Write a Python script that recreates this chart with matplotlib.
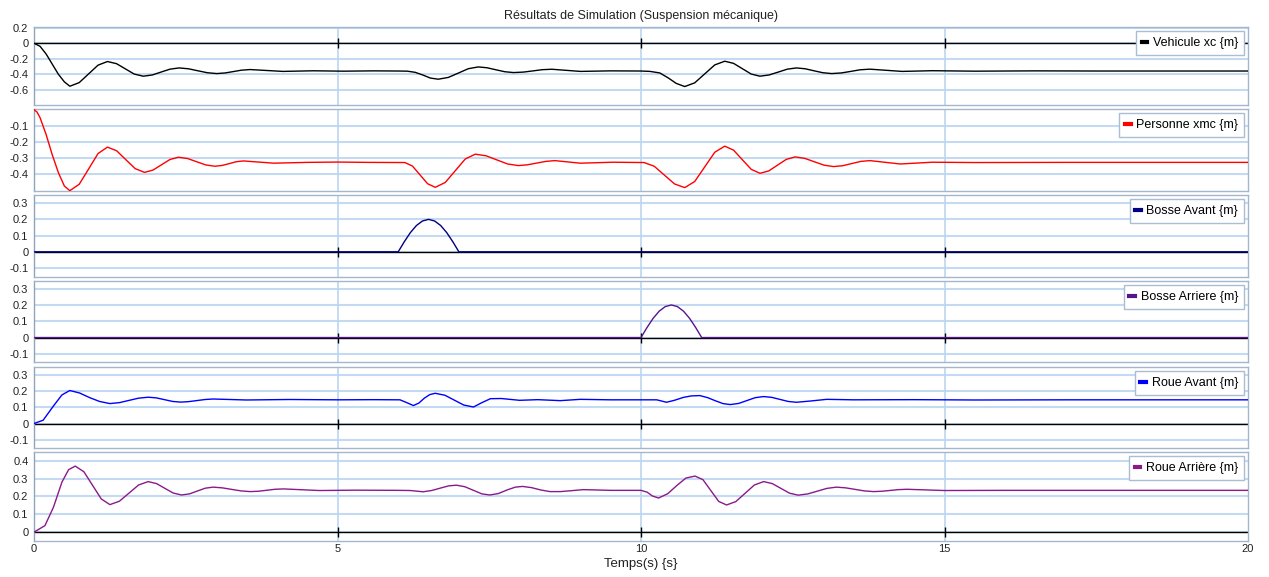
import numpy as np
import matplotlib
matplotlib.use('Agg')
import matplotlib.pyplot as plt
from matplotlib.lines import Line2D

plt.rcParams['font.family'] = ['Liberation Sans', 'DejaVu Sans']

# Données (temps en s, positions en m)
t_xc = [0, 0.1, 0.2, 0.3, 0.4, 0.5, 0.59, 0.745, 0.9, 1.055, 1.21, 1.36, 1.505, 1.65, 1.8,
        1.95, 2.095, 2.24, 2.39, 2.545, 2.7, 2.855, 3.01, 3.15, 3.285, 3.42, 3.56, 4.1, 4.6,
        5.1, 5.6, 6.0, 6.15, 6.28, 6.41, 6.53, 6.66, 6.825, 6.99, 7.155, 7.32, 7.465, 7.61,
        7.755, 7.9, 8.06, 8.215, 8.37, 8.53, 9.0, 9.5, 10.0, 10.15, 10.31, 10.45, 10.58,
        10.72, 10.885, 11.05, 11.215, 11.38, 11.525, 11.67, 11.815, 11.96, 12.11, 12.26,
        12.41, 12.56, 12.705, 12.85, 12.995, 13.14, 13.3, 13.455, 13.61, 13.77, 14.3, 14.8,
        15.5, 16.5, 17.5, 20]
xc = [0, -0.04, -0.14, -0.27, -0.40, -0.50, -0.557, -0.510, -0.397, -0.284, -0.237, -0.265,
      -0.332, -0.399, -0.427, -0.411, -0.373, -0.336, -0.320, -0.331, -0.357, -0.382, -0.393,
      -0.385, -0.367, -0.349, -0.341, -0.365, -0.357, -0.362, -0.358, -0.360, -0.362, -0.377,
      -0.413, -0.451, -0.466, -0.443, -0.387, -0.330, -0.307, -0.318, -0.344, -0.369, -0.380,
      -0.374, -0.359, -0.343, -0.337, -0.365, -0.358, -0.360, -0.365, -0.385, -0.450, -0.520,
      -0.561, -0.513, -0.397, -0.281, -0.233, -0.261, -0.330, -0.399, -0.427, -0.411, -0.374,
      -0.336, -0.320, -0.331, -0.357, -0.382, -0.393, -0.385, -0.365, -0.344, -0.336, -0.365,
      -0.356, -0.362, -0.358, -0.360, -0.360]

t_xmc = [0, 0.05, 0.1, 0.2, 0.3, 0.4, 0.5, 0.59, 0.745, 0.9, 1.055, 1.21, 1.3625, 1.515,
         1.6675, 1.82, 1.96, 2.1, 2.24, 2.38, 2.53, 2.68, 2.83, 2.98, 3.1, 3.215, 3.33, 3.45,
         3.95, 4.5, 5.0, 5.5, 6.11, 6.235, 6.36, 6.485, 6.61, 6.775, 6.94, 7.105, 7.27, 7.4475,
         7.625, 7.8025, 7.98, 8.13, 8.28, 8.43, 8.58, 9.0, 9.54, 10.05, 10.2175, 10.385,
         10.5525, 10.72, 10.885, 11.05, 11.215, 11.38, 11.525, 11.67, 11.815, 11.96, 12.105,
         12.25, 12.395, 12.54, 12.6975, 12.855, 13.0125, 13.17, 13.32, 13.47, 13.62, 13.77,
         14.27, 14.8, 15.5, 17, 20]
xmc = [0, -0.015, -0.05, -0.155, -0.28, -0.39, -0.475, -0.504, -0.464, -0.369, -0.273, -0.233,
       -0.256, -0.312, -0.367, -0.390, -0.376, -0.343, -0.310, -0.296, -0.304, -0.324, -0.344,
       -0.352, -0.347, -0.336, -0.324, -0.319, -0.333, -0.328, -0.326, -0.328, -0.329, -0.351,
       -0.406, -0.461, -0.483, -0.453, -0.380, -0.307, -0.277, -0.287, -0.3125, -0.338, -0.348,
       -0.343, -0.3325, -0.322, -0.317, -0.333, -0.327, -0.329, -0.352, -0.407, -0.462, -0.485,
       -0.447, -0.356, -0.265, -0.227, -0.252, -0.3115, -0.371, -0.396, -0.381, -0.345, -0.309,
       -0.294, -0.303, -0.324, -0.345, -0.354, -0.349, -0.3355, -0.322, -0.317, -0.338, -0.327,
       -0.329, -0.328, -0.328]

t_bav = [0, 6.0, 6.1, 6.2, 6.3, 6.4, 6.5, 6.6, 6.7, 6.8, 6.9, 7.0, 20]
bav = [0, 0, 0.062, 0.118, 0.162, 0.190, 0.200, 0.190, 0.162, 0.118, 0.062, 0, 0]

t_bar = [0, 10.0, 10.1, 10.2, 10.3, 10.4, 10.5, 10.6, 10.7, 10.8, 10.9, 11.0, 20]
bar = [0, 0, 0.062, 0.118, 0.162, 0.190, 0.200, 0.190, 0.162, 0.118, 0.062, 0, 0]

t_rav = [0, 0.15, 0.32, 0.46, 0.59, 0.75, 0.92, 1.08, 1.25, 1.41, 1.565, 1.72, 1.88, 2.015,
         2.15, 2.285, 2.42, 2.55, 2.685, 2.82, 2.95, 3.5, 4.2, 5.0, 5.6, 6.03, 6.14, 6.25, 6.34,
         6.43, 6.52, 6.61, 6.77, 6.925, 7.08, 7.24, 7.38, 7.52, 7.7, 8.0, 8.3, 8.67, 9.0, 9.5,
         10.0, 10.26, 10.42, 10.55, 10.7, 10.83, 10.97, 11.1, 11.22, 11.35, 11.47, 11.61,
         11.745, 11.88, 12.02, 12.155, 12.29, 12.425, 12.56, 12.8, 13.06, 13.5, 14.5, 15.5, 17, 20]
rav = [0, 0.02, 0.107, 0.175, 0.202, 0.187, 0.158, 0.135, 0.122, 0.128, 0.1415, 0.155, 0.161,
       0.157, 0.146, 0.135, 0.131, 0.134, 0.1405, 0.147, 0.150, 0.144, 0.147, 0.145, 0.146,
       0.145, 0.128, 0.110, 0.125, 0.155, 0.177, 0.185, 0.173, 0.143, 0.113, 0.101, 0.128,
       0.152, 0.153, 0.142, 0.146, 0.140, 0.148, 0.145, 0.145, 0.145, 0.130, 0.142, 0.160,
       0.169, 0.171, 0.158, 0.140, 0.122, 0.116, 0.123, 0.1405, 0.158, 0.165, 0.160, 0.1475,
       0.135, 0.130, 0.138, 0.148, 0.145, 0.146, 0.144, 0.145, 0.145]

t_rar = [0, 0.18, 0.32, 0.46, 0.57, 0.68, 0.8225, 0.965, 1.1075, 1.25, 1.4075, 1.565, 1.7225,
         1.88, 2.0175, 2.155, 2.2925, 2.43, 2.56, 2.69, 2.82, 2.95, 3.1025, 3.255, 3.4075, 3.56,
         3.7, 3.835, 3.97, 4.11, 4.7, 5.3, 6.0, 6.2, 6.41, 6.55, 6.7, 6.83, 6.96, 7.1, 7.24,
         7.38, 7.51, 7.65, 7.8, 7.93, 8.05, 8.2, 8.35, 8.5, 8.67, 8.85, 9.05, 9.5, 10.0, 10.1,
         10.19, 10.29, 10.44, 10.59, 10.74, 10.89, 11.02, 11.15, 11.28, 11.41, 11.5625, 11.715,
         11.8675, 12.02, 12.1625, 12.305, 12.4475, 12.59, 12.7475, 12.905, 13.0625, 13.22,
         13.3725, 13.525, 13.6775, 13.83, 13.97, 14.105, 14.24, 14.38, 15.0, 16, 20]
rar = [0, 0.036, 0.139, 0.280, 0.350, 0.370, 0.338, 0.262, 0.186, 0.154, 0.173, 0.2185, 0.264,
       0.283, 0.272, 0.2455, 0.219, 0.208, 0.214, 0.230, 0.246, 0.252, 0.248, 0.2395, 0.231,
       0.227, 0.229, 0.2345, 0.240, 0.242, 0.233, 0.235, 0.234, 0.233, 0.226, 0.233, 0.247,
       0.259, 0.263, 0.254, 0.234, 0.214, 0.208, 0.216, 0.237, 0.252, 0.256, 0.249, 0.236,
       0.227, 0.227, 0.232, 0.238, 0.234, 0.234, 0.224, 0.202, 0.191, 0.215, 0.261, 0.303,
       0.314, 0.294, 0.233, 0.172, 0.152, 0.171, 0.2175, 0.264, 0.283, 0.272, 0.245, 0.218,
       0.207, 0.214, 0.2295, 0.245, 0.252, 0.248, 0.2395, 0.231, 0.227, 0.229, 0.2335, 0.238,
       0.240, 0.233, 0.234, 0.234]

names = ['Vehicule xc {m}', 'Personne xmc {m}', 'Bosse Avant {m}', 'Bosse Arriere {m}',
         'Roue Avant {m}', 'Roue Arrière {m}']
couleurs = ['#000000', '#ff0000', '#000080', '#55168c', '#0000ff', '#8a1a8a']
series = [(t_xc, xc), (t_xmc, xmc), (t_bav, bav), (t_bar, bar), (t_rav, rav), (t_rar, rar)]

yticks = [[0.2, 0, -0.2, -0.4, -0.6],
          [-0.1, -0.2, -0.3, -0.4],
          [0.3, 0.2, 0.1, 0, -0.1],
          [0.3, 0.2, 0.1, 0, -0.1],
          [0.3, 0.2, 0.1, 0, -0.1],
          [0.4, 0.3, 0.2, 0.1, 0]]
ylims = [(-0.80, 0.21), (-0.506, 0.004), (-0.155, 0.35), (-0.15, 0.347), (-0.15, 0.346), (-0.05, 0.449)]
xticks = [0, 5, 10, 15, 20]

# Position des panneaux en pixels (haut, bas)
W, H = 1269, 577
boites = [(27, 105), (109, 191), (195, 277), (281, 362), (367, 448), (452, 541)]
gauche, droite = 34, 1248

fig = plt.figure(figsize=(W / 100, H / 100), dpi=100)

for i in range(6):
    haut, bas = boites[i]
    ax = fig.add_axes([gauche / W, 1 - bas / H, (droite - gauche) / W, (bas - haut) / H])
    ax.set_xlim(0, 20)
    ax.set_ylim(*ylims[i])
    ax.set_yticks(yticks[i])
    ax.set_yticklabels(['%g' % v for v in yticks[i]])
    ax.set_xticks(xticks)
    ax.tick_params(length=0, labelsize=8, pad=4, colors='#222222')
    if i < 5:
        ax.set_xticklabels([])
    else:
        ax.tick_params(axis='x', pad=2.5, labelsize=8)
    # grille
    for v in yticks[i]:
        ax.axhline(v, color='#c3daf2', lw=1.5, zorder=0)
    for v in xticks[1:-1]:
        ax.axvline(v, color='#bcd6f0', lw=1.2, zorder=0)
    for s in ax.spines.values():
        s.set_color('#a4b6ca')
        s.set_linewidth(1)
    ax.spines['left'].set_color('#8fa4bd')
    # axe du zéro avec petites graduations
    if i != 1:
        ax.axhline(0, color='black', lw=1, zorder=1)
        ax.plot(xticks[1:-1], [0, 0, 0], ls='none', marker='|', ms=7, mew=1, color='black', zorder=1)
    ax.plot(series[i][0], series[i][1], color=couleurs[i], lw=1.0, zorder=3)
    h = Line2D([0], [0], color=couleurs[i], lw=3)
    leg = ax.legend([h], [names[i]], loc='upper right', fontsize=9, fancybox=False,
                    edgecolor='#a9bdd3', framealpha=1, handlelength=0.45, handletextpad=0.45,
                    borderaxespad=0.35, borderpad=0.45)
    leg.get_frame().set_linewidth(1)
    leg.set_zorder(5)

fig.text(641 / W, 1 - 16 / H, 'Résultats de Simulation (Suspension mécanique)',
         ha='center', va='center', fontsize=9, color='#222222')
fig.text(641 / W, 1 - 564 / H, 'Temps(s) {s}', ha='center', va='center', fontsize=9.5,
         color='#222222')

fig.savefig('out.png', dpi=100)
